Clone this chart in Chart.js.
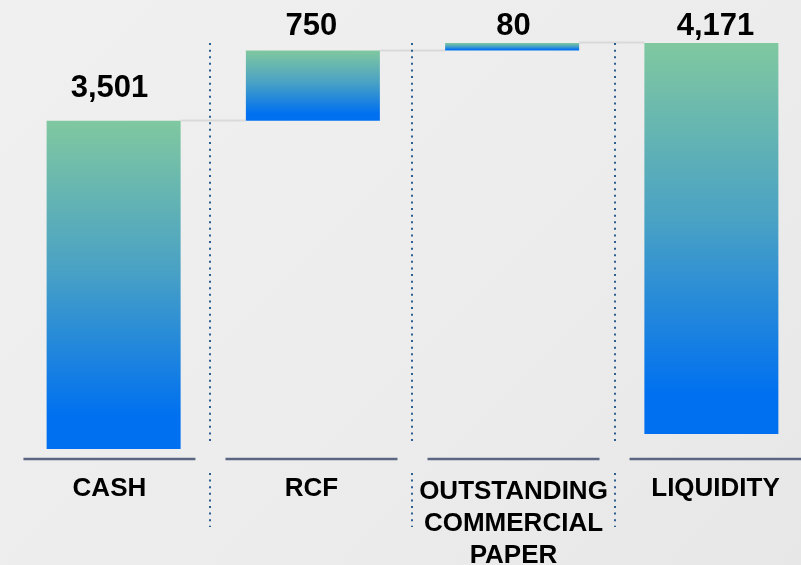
<!DOCTYPE html>
<html>
<head>
<meta charset="utf-8">
<script src="https://cdn.jsdelivr.net/npm/chart.js@4.4.1/dist/chart.umd.min.js"></script>
<style>
  html, body { margin: 0; padding: 0; overflow: hidden; }
  body { width: 801px; height: 565px; background: linear-gradient(135deg, #f0f0f0 0%, #ececec 60%, #e7e7e7 100%); }
  #wrap { position: absolute; left: 0; top: 0; width: 811px; height: 565px; }
</style>
</head>
<body>
<div id="wrap"><canvas id="liquidityChart"></canvas></div>
<script>
// Liquidity bridge (EUR m)
const categories = [["CASH"], ["RCF"], ["OUTSTANDING", "COMMERCIAL", "PAPER"], ["LIQUIDITY"]];
const values = [3501, 750, 80, 4171];
const valueLabels = ["3,501", "750", "80", "4,171"];
const isTotal = [false, false, false, true];

// floating ranges: steps stack on the running total, the total hangs from the last top
const ranges = [];
let running = 0;
values.forEach((v, i) => {
  if (isTotal[i]) {
    ranges.push([running - v, running]);
  } else {
    ranges.push([running, running + v]);
    running += v;
  }
});

const FONT = "'Liberation Sans', Arial, sans-serif";
const LABEL_SPREAD = 1.014; // text columns sit a touch wider than the bars

function barGradient(ctx) {
  const chart = ctx.chart;
  const y = chart.scales.y;
  if (!chart.chartArea || !y || ctx.dataIndex === undefined) return "#3a8fd0";
  const r = ranges[ctx.dataIndex];
  const top = y.getPixelForValue(r[1]);
  const bottom = y.getPixelForValue(r[0]);
  const g = chart.ctx.createLinearGradient(0, top, 0, bottom);
  g.addColorStop(0, "#80c8a0");
  g.addColorStop(0.45, "#4aa2c4");
  g.addColorStop(0.9, "#0070f0");
  g.addColorStop(1, "#0070f0");
  return g;
}

function columnX(chart, v) {
  const area = chart.chartArea;
  const mid = (area.left + area.right) / 2 + 1;
  return mid + (chart.scales.x.getPixelForValue(v) - mid) * LABEL_SPREAD;
}

const bridgeDecor = {
  id: "bridgeDecor",
  beforeDatasetsDraw(chart) {
    const ctx = chart.ctx;
    const area = chart.chartArea;
    const y = chart.scales.y;
    const bars = chart.getDatasetMeta(0).data;
    ctx.save();

    // connectors between neighbouring bars
    ctx.strokeStyle = "#d9d9d9";
    ctx.lineWidth = 2;
    for (let i = 0; i < bars.length - 1; i++) {
      const yy = Math.round(y.getPixelForValue(ranges[i][1])) - 0.5;
      ctx.beginPath();
      ctx.moveTo(bars[i].x + bars[i].width / 2, yy);
      ctx.lineTo(bars[i + 1].x - bars[i + 1].width / 2, yy);
      ctx.stroke();
    }

    // dotted separators between categories
    const topY = y.getPixelForValue(running);
    ctx.strokeStyle = "#2d5e92";
    ctx.lineWidth = 2;
    ctx.setLineDash([2, 4.6]);
    for (let i = 0; i < categories.length - 1; i++) {
      const sx = Math.round(columnX(chart, i + 0.5));
      ctx.beginPath();
      ctx.moveTo(sx, topY);
      ctx.lineTo(sx, area.bottom - 6);
      ctx.moveTo(sx, area.bottom + 24);
      ctx.lineTo(sx, area.bottom + 78);
      ctx.stroke();
    }
    ctx.restore();
  },
  afterDatasetsDraw(chart) {
    const ctx = chart.ctx;
    const area = chart.chartArea;
    const y = chart.scales.y;
    ctx.save();

    // category underlines and labels
    const lineY = area.bottom + 10;
    categories.forEach((lines, i) => {
      const cx = columnX(chart, i);
      ctx.strokeStyle = "#5b6782";
      ctx.lineWidth = 2.5;
      ctx.beginPath();
      ctx.moveTo(cx - 86, lineY);
      ctx.lineTo(cx + 86, lineY);
      ctx.stroke();

      ctx.fillStyle = "#000";
      ctx.font = "bold 26px " + FONT;
      ctx.textAlign = "center";
      ctx.textBaseline = "middle";
      const y0 = lineY + 30 + (lines.length > 1 ? 3 : 0);
      lines.forEach((t, k) => ctx.fillText(t, cx, y0 + k * 32));
    });

    // value labels above bars
    ctx.font = "bold 31px " + FONT;
    ctx.textBaseline = "alphabetic";
    valueLabels.forEach((t, i) => {
      const top = y.getPixelForValue(ranges[i][1]);
      ctx.fillText(t, columnX(chart, i), Math.max(top - 24, 35));
    });
    ctx.restore();
  }
};

new Chart(document.getElementById("liquidityChart"), {
  type: "bar",
  data: {
    labels: categories.map(c => c.join(" ")),
    datasets: [{
      data: ranges,
      backgroundColor: barGradient,
      borderWidth: 0,
      categoryPercentage: 1,
      barPercentage: 0.6725
    }]
  },
  options: {
    responsive: true,
    maintainAspectRatio: false,
    animation: false,
    layout: { padding: { left: 14, right: 0, top: 0, bottom: 116 } },
    plugins: { legend: { display: false }, tooltip: { enabled: false } },
    scales: {
      x: { display: false },
      y: { display: false, min: 0, max: 4790 }
    }
  },
  plugins: [bridgeDecor]
});
</script>
</body>
</html>
